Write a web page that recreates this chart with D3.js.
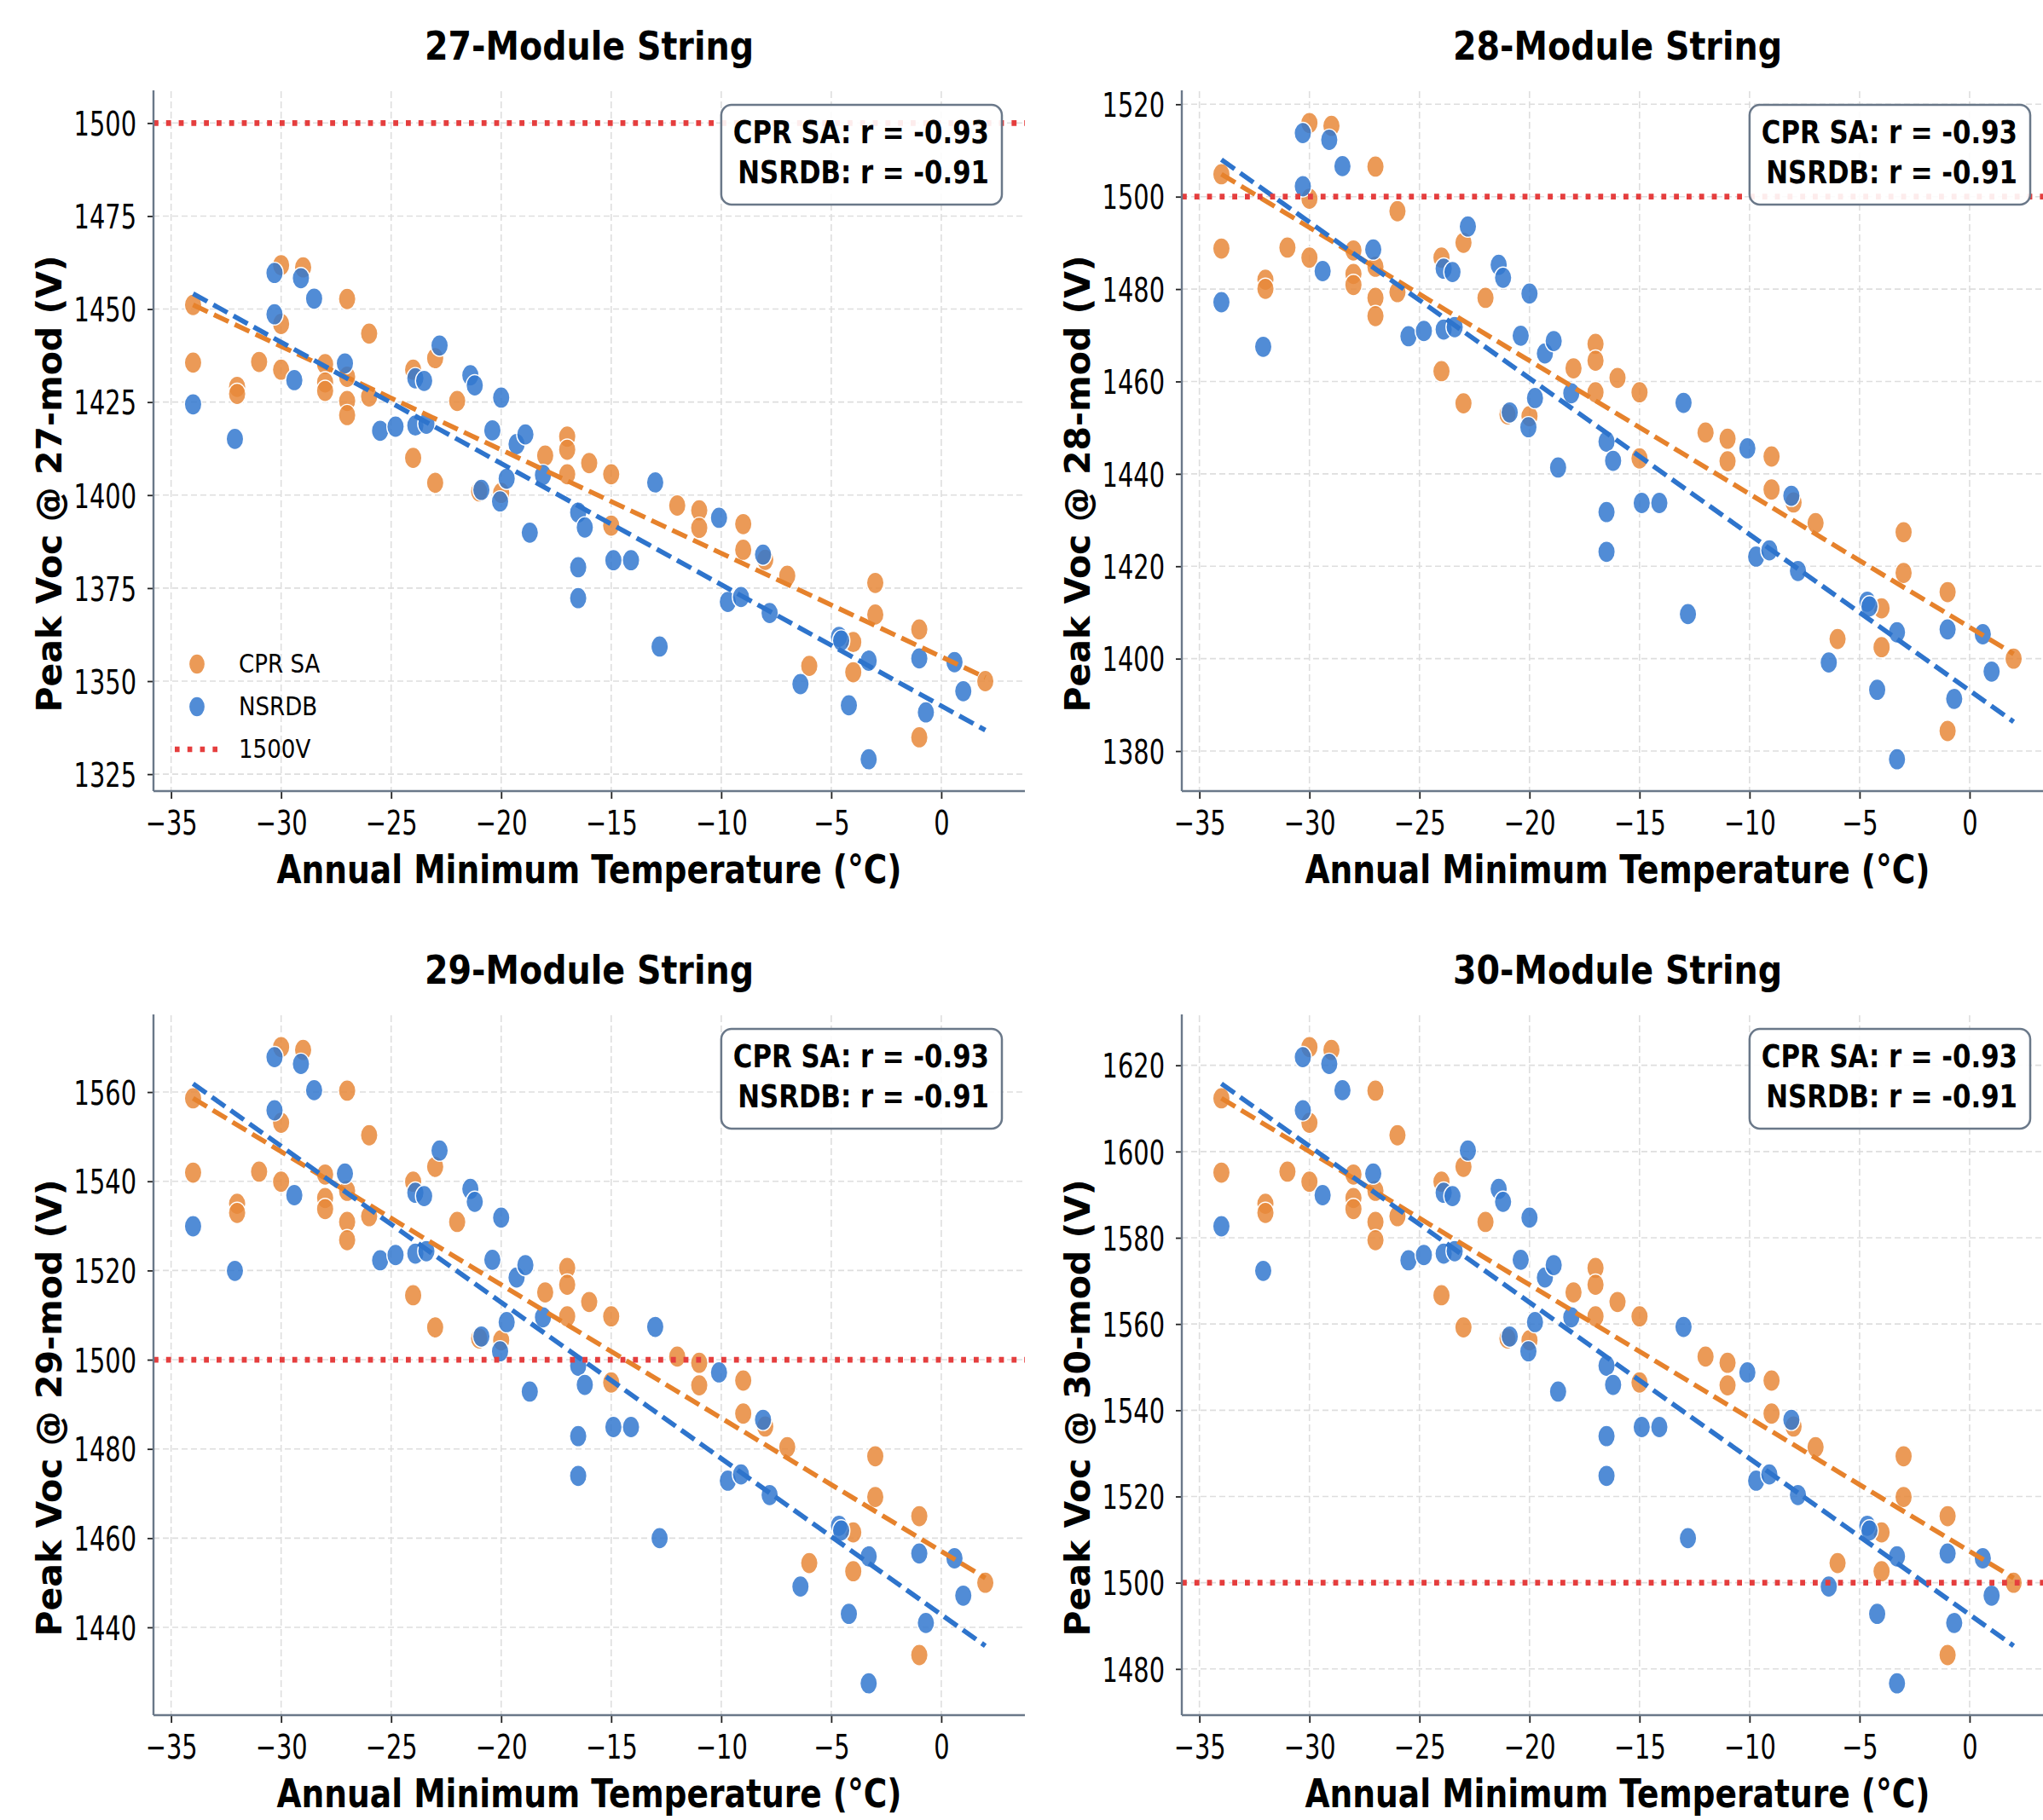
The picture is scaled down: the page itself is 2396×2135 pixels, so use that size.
<!DOCTYPE html>
<html><head><meta charset="utf-8">
<script src="https://cdn.jsdelivr.net/npm/d3@7"></script>
<style>body{margin:0;background:#fff}svg{display:block}</style>
</head><body><svg id="c" width="2396" height="2135"></svg>
<script>
// ---------------- DATA ----------------
const moduleCounts = [27, 28, 29, 30];
const limitV = 1500;
const xTickValues = [-35, -30, -25, -20, -15, -10, -5, 0];
const yTicks27 = [1325, 1350, 1375, 1400, 1425, 1450, 1475, 1500];
const yTicks28 = [1380, 1400, 1420, 1440, 1460, 1480, 1500, 1520];
const yTicks29 = [1440, 1460, 1480, 1500, 1520, 1540, 1560];
const yTicks30 = [1480, 1500, 1520, 1540, 1560, 1580, 1600, 1620];
const corrCPR = "-0.93";
const corrNSRDB = "-0.91";
// CPR SA: annual minimum temperature (°C) and peak Voc of a 27-module string (V)
const cprTemp = [-34.0,-34.0,-32.0,-32.0,-31.0,-30.0,-30.0,-30.0,-29.0,-28.0,-28.0,-28.0,-27.0,-27.0,-27.0,-27.0,-26.0,-26.0,-24.0,-24.0,-23.0,-23.0,-22.0,-21.0,-20.0,-18.0,-17.0,-17.0,-17.0,-16.0,-15.0,-15.0,-12.0,-11.0,-11.0,-9.0,-9.0,-8.0,-7.0,-6.0,-4.0,-4.0,-3.0,-3.0,-1.0,-1.0,2.0];
const cprVoc27 = [1451.1,1435.6,1429.1,1427.2,1435.8,1461.8,1446.0,1433.7,1461.2,1435.2,1430.3,1428.0,1452.7,1431.8,1425.3,1421.5,1443.4,1426.5,1433.7,1410.0,1436.8,1403.3,1425.3,1401.0,1400.6,1410.6,1415.7,1412.2,1405.6,1408.6,1405.6,1391.8,1397.2,1395.9,1391.2,1392.2,1385.3,1382.6,1378.3,1354.1,1360.5,1352.4,1376.4,1367.9,1363.9,1334.9,1350.0];
// NSRDB
const nsrdbTemp = [-34.0,-32.1,-30.3,-30.3,-29.4,-29.1,-28.5,-27.1,-25.5,-24.8,-23.9,-23.9,-23.5,-23.4,-22.8,-21.4,-21.2,-20.0,-20.9,-20.4,-20.05,-19.75,-19.3,-18.9,-18.7,-18.1,-16.5,-16.2,-16.5,-16.5,-14.9,-14.1,-13.0,-12.8,-10.1,-9.7,-9.1,-8.1,-7.8,-6.4,-4.65,-4.55,-4.2,-3.3,-3.3,-1.0,-0.7,0.6,1.0];
const nsrdbVoc27 = [1424.4,1415.1,1459.7,1448.6,1430.9,1458.3,1452.8,1435.4,1417.3,1418.4,1431.4,1418.7,1430.7,1419.2,1440.2,1432.2,1429.5,1426.2,1401.4,1417.4,1398.3,1404.4,1413.7,1416.3,1389.9,1405.4,1395.3,1391.3,1380.6,1372.3,1382.5,1382.5,1403.4,1359.3,1393.9,1371.3,1372.6,1384.0,1368.3,1349.2,1361.9,1360.9,1343.5,1355.5,1329.0,1356.1,1341.6,1355.1,1347.3];
const yTicksAll = [yTicks27, yTicks28, yTicks29, yTicks30];

// ---------------- STYLE ----------------
const FONT = "DejaVu Sans";
const C_ORANGE = "#E8883A", C_BLUE = "#3278CF";
const C_ORANGE_LINE = "#E6822C", C_BLUE_LINE = "#2E74CC";
const C_RED = "#E53E3E";
const C_SPINE = "#6a7889";

const svg = d3.select("#c");
svg.append("rect").attr("width", 2396).attr("height", 2135).attr("fill", "#fff");

function squishText(sel, x, y, sx) {
  sel.attr("x", 0).attr("y", 0).attr("transform", `translate(${x},${y}) scale(${sx},1)`);
  return sel;
}
function linreg(xs, ys) {
  const mx = d3.mean(xs), my = d3.mean(ys);
  let sxy = 0, sxx = 0;
  xs.forEach((x, i) => { sxy += (x - mx) * (ys[i] - my); sxx += (x - mx) * (x - mx); });
  const b = sxy / sxx;
  return { b, a: my - b * mx };
}

moduleCounts.forEach((n, i) => {
  const r = Math.floor(i / 2), c = i % 2;
  const L = 180 + 1206 * c, R = 1202 + 1206 * c, T = 107 + 1084 * r, B = 928 + 1084 * r;
  const cpr = cprTemp.map((t, j) => ({ t, v: cprVoc27[j] * n / 27 }));
  const ns = nsrdbTemp.map((t, j) => ({ t, v: nsrdbVoc27[j] * n / 27 }));
  const allT = cprTemp.concat(nsrdbTemp);
  const tmin = d3.min(allT), tmax = d3.max(allT), tpad = (tmax - tmin) * 0.05;
  const allV = cpr.map(d => d.v).concat(ns.map(d => d.v), [limitV]);
  const vmin = d3.min(allV), vmax = d3.max(allV), vpad = (vmax - vmin) * 0.05;
  const x = d3.scaleLinear().domain([tmin - tpad, tmax + tpad]).range([L, R]);
  const y = d3.scaleLinear().domain([vmin - vpad, vmax + vpad]).range([B, T]);
  const yTicks = yTicksAll[i];

  const g = svg.append("g");
  // grid
  g.append("g").selectAll("line").data(xTickValues).join("line")
    .attr("x1", d => x(d)).attr("x2", d => x(d)).attr("y1", T).attr("y2", B)
    .attr("stroke", "#dedede").attr("stroke-width", 1.6).attr("stroke-dasharray", "8,4");
  g.append("g").selectAll("line").data(yTicks).join("line")
    .attr("x1", L).attr("x2", R).attr("y1", d => y(d)).attr("y2", d => y(d))
    .attr("stroke", "#dedede").attr("stroke-width", 1.6).attr("stroke-dasharray", "7,4");

  // points
  const drawPts = (data, col) => g.append("g").selectAll("ellipse").data(data).join("ellipse")
    .attr("cx", d => x(d.t)).attr("cy", d => y(d.v)).attr("rx", 10.2).attr("ry", 12.6)
    .attr("fill", col).attr("fill-opacity", 0.85).attr("stroke", "#fff").attr("stroke-width", 1.4);
  drawPts(cpr, C_ORANGE);
  drawPts(ns, C_BLUE);

  // fit lines
  const line = d3.line().x(d => x(d[0])).y(d => y(d[1]));
  [[cpr, C_ORANGE_LINE], [ns, C_BLUE_LINE]].forEach(([data, col]) => {
    const f = linreg(data.map(d => d.t), data.map(d => d.v));
    g.append("path").attr("d", line([[tmin, f.a + f.b * tmin], [tmax, f.a + f.b * tmax]]))
      .attr("fill", "none").attr("stroke", col).attr("stroke-width", 5.6).attr("stroke-dasharray", "19,8");
  });

  // 1500 V limit
  g.append("line").attr("x1", L).attr("x2", R).attr("y1", y(limitV)).attr("y2", y(limitV))
    .attr("stroke", C_RED).attr("stroke-width", 6.8).attr("stroke-dasharray", "5.8,9");

  // axes
  const xAxis = g.append("g").attr("transform", `translate(0,${B})`)
    .call(d3.axisBottom(x).tickValues(xTickValues).tickSize(9).tickPadding(0));
  const yAxis = g.append("g").attr("transform", `translate(${L},0)`)
    .call(d3.axisLeft(y).tickValues(yTicks).tickSize(7).tickFormat(d3.format("d")));
  [xAxis, yAxis].forEach(ax => {
    ax.select(".domain").remove();
    ax.selectAll(".tick line").attr("stroke", "#222").attr("stroke-width", 1.8);
    ax.selectAll(".tick text").attr("font-family", FONT).attr("font-size", 39.5).attr("fill", "#000");
  });
  xAxis.selectAll(".tick text").attr("dy", null).each(function () { squishText(d3.select(this), 0, 51, 0.73); });
  yAxis.selectAll(".tick text").attr("dy", "0.36em").each(function () { squishText(d3.select(this), -20, 0, 0.73); });
  // spines
  g.append("line").attr("x1", L).attr("x2", L).attr("y1", T - 1).attr("y2", B)
    .attr("stroke", C_SPINE).attr("stroke-width", 2.4);
  g.append("line").attr("x1", L).attr("x2", R).attr("y1", B).attr("y2", B)
    .attr("stroke", C_SPINE).attr("stroke-width", 2.4);

  // titles and labels
  squishText(g.append("text").text(`${n}-Module String`), (L + R) / 2, T - 37, 0.85)
    .attr("text-anchor", "middle").attr("font-family", FONT).attr("font-weight", "bold").attr("font-size", 46.6);
  squishText(g.append("text").text("Annual Minimum Temperature (°C)"), (L + R) / 2, B + 108, 0.80)
    .attr("text-anchor", "middle").attr("font-family", FONT).attr("font-weight", "bold").attr("font-size", 47);
  g.append("text").text(`Peak Voc @ ${n}-mod (V)`)
    .attr("transform", `translate(${L - 108},${(T + B) / 2 + 50}) scale(0.98,1) rotate(-90)`)
    .attr("text-anchor", "middle").attr("font-family", FONT).attr("font-weight", "bold").attr("font-size", 41);

  // correlation box
  const boxR = R - 27, boxT = T + 16;
  const bx = g.append("g");
  const rect = bx.append("rect");
  const t1 = squishText(bx.append("text").text(`CPR SA: r = ${corrCPR}`), boxR - 15, boxT + 45, 0.81);
  const t2 = squishText(bx.append("text").text(`NSRDB: r = ${corrNSRDB}`), boxR - 15, boxT + 92, 0.81);
  [t1, t2].forEach(t => t.attr("text-anchor", "end").attr("font-family", FONT).attr("font-weight", "bold").attr("font-size", 38));
  const w = Math.max(t1.node().getBBox().width, t2.node().getBBox().width) * 0.81;
  rect.attr("x", boxR - 15 - w - 14).attr("y", boxT).attr("width", w + 29).attr("height", 117)
    .attr("rx", 12).attr("fill", "#fff").attr("fill-opacity", 0.9)
    .attr("stroke", C_SPINE).attr("stroke-width", 2.5);

  // legend (first panel only)
  if (i === 0) {
    const lg = g.append("g");
    const items = [["CPR SA", C_ORANGE, "pt"], ["NSRDB", C_BLUE, "pt"], ["1500V", C_RED, "ln"]];
    items.forEach(([lab, col, kind], k) => {
      const cy = B - 149 + 50 * k;
      if (kind === "pt") {
        lg.append("ellipse").attr("cx", L + 51).attr("cy", cy).attr("rx", 9.6).attr("ry", 12)
          .attr("fill", col).attr("fill-opacity", 0.85).attr("stroke", "#fff").attr("stroke-width", 1.4);
      } else {
        lg.append("line").attr("x1", L + 25).attr("x2", L + 80).attr("y1", cy).attr("y2", cy)
          .attr("stroke", col).attr("stroke-width", 6.6).attr("stroke-dasharray", "5.6,9.2");
      }
      squishText(lg.append("text").text(lab), L + 100, cy + 10, 0.87)
        .attr("font-family", FONT).attr("font-size", 30).attr("fill", "#000");
    });
  }
});
</script></body></html>
